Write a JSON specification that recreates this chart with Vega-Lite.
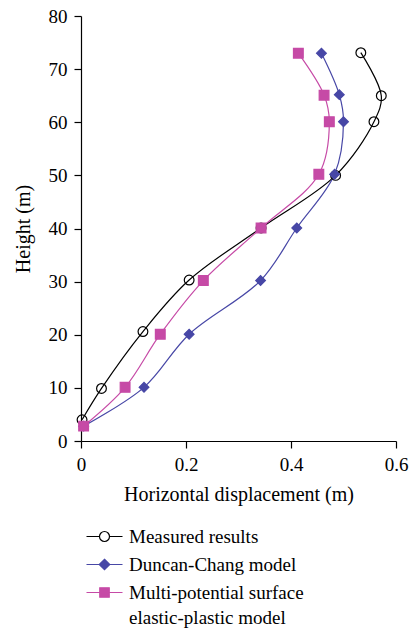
{
  "$schema": "https://vega.github.io/schema/vega-lite/v6.json",
  "width": 315,
  "height": 425,
  "autosize": {"type": "none"},
  "padding": {"left": 81, "top": 16, "right": 18, "bottom": 192},
  "background": "white",
  "config": {
    "view": {"stroke": null},
    "font": "Liberation Serif",
    "style": {"guide-label": {"lineHeight": 25}},
    "axis": {
      "grid": false,
      "domainColor": "#000000",
      "domainWidth": 1.2,
      "tickColor": "#000000",
      "tickWidth": 1.2,
      "tickSize": 7,
      "labelColor": "#000000",
      "labelFont": "Liberation Serif",
      "labelFontSize": 19,
      "labelPadding": 7,
      "labelFlush": false,
      "labelOverlap": false,
      "titleColor": "#000000",
      "titleFont": "Liberation Serif",
      "titleFontSize": 20,
      "titleFontWeight": "normal"
    },
    "legend": {
      "labelFont": "Liberation Serif",
      "labelFontSize": 19,
      "labelColor": "#000000",
      "labelLimit": 400
    }
  },
  "data": {
    "values": [
      {"series": "Measured results", "d": 0.002, "h": 4.0},
      {"series": "Measured results", "d": 0.039, "h": 9.9},
      {"series": "Measured results", "d": 0.118, "h": 20.6},
      {"series": "Measured results", "d": 0.206, "h": 30.3},
      {"series": "Measured results", "d": 0.343, "h": 40.1},
      {"series": "Measured results", "d": 0.485, "h": 50.0},
      {"series": "Measured results", "d": 0.558, "h": 60.1},
      {"series": "Measured results", "d": 0.572, "h": 65.0},
      {"series": "Measured results", "d": 0.533, "h": 73.1},
      {"series": "Duncan-Chang model", "d": 0.005, "h": 2.8},
      {"series": "Duncan-Chang model", "d": 0.12, "h": 10.1},
      {"series": "Duncan-Chang model", "d": 0.206, "h": 20.1},
      {"series": "Duncan-Chang model", "d": 0.342, "h": 30.2},
      {"series": "Duncan-Chang model", "d": 0.411, "h": 40.1},
      {"series": "Duncan-Chang model", "d": 0.483, "h": 50.2},
      {"series": "Duncan-Chang model", "d": 0.5, "h": 60.1},
      {"series": "Duncan-Chang model", "d": 0.492, "h": 65.2},
      {"series": "Duncan-Chang model", "d": 0.458, "h": 73.0},
      {"series": "Multi-potential surface elastic-plastic model", "d": 0.005, "h": 2.8},
      {"series": "Multi-potential surface elastic-plastic model", "d": 0.084, "h": 10.1},
      {"series": "Multi-potential surface elastic-plastic model", "d": 0.151, "h": 20.1},
      {"series": "Multi-potential surface elastic-plastic model", "d": 0.233, "h": 30.2},
      {"series": "Multi-potential surface elastic-plastic model", "d": 0.343, "h": 40.1},
      {"series": "Multi-potential surface elastic-plastic model", "d": 0.453, "h": 50.2},
      {"series": "Multi-potential surface elastic-plastic model", "d": 0.473, "h": 60.1},
      {"series": "Multi-potential surface elastic-plastic model", "d": 0.463, "h": 65.1},
      {"series": "Multi-potential surface elastic-plastic model", "d": 0.414, "h": 73.0}
    ]
  },
  "encoding": {
    "x": {
      "field": "d",
      "type": "quantitative",
      "scale": {"domain": [0, 0.6], "nice": false, "zero": false},
      "axis": {
        "title": "Horizontal displacement (m)",
        "values": [0, 0.2, 0.4, 0.6],
        "labelExpr": "datum.value == 0 ? '0' : format(datum.value, '.1f')",
        "labelFont": "Liberation Serif",
        "labelFontSize": 19,
        "titleFont": "Liberation Serif",
        "titleFontSize": 20,
        "titleY": 53,
        "titleBaseline": "middle"
      }
    },
    "y": {
      "field": "h",
      "type": "quantitative",
      "scale": {"domain": [0, 80], "nice": false},
      "axis": {
        "title": "Height (m)",
        "values": [0, 10, 20, 30, 40, 50, 60, 70, 80],
        "labelFont": "Liberation Serif",
        "labelFontSize": 19,
        "titleFont": "Liberation Serif",
        "titleFontSize": 20,
        "titleX": -58,
        "titleBaseline": "middle"
      }
    }
  },
  "layer": [
    {
      "mark": {"type": "line", "interpolate": "catmull-rom", "strokeWidth": 1.2},
      "encoding": {
        "stroke": {
          "field": "series",
          "type": "nominal",
          "scale": {
            "domain": ["Measured results", "Duncan-Chang model", "Multi-potential surface elastic-plastic model"],
            "range": ["#000000", "#4747a6", "#c64aa6"]
          },
          "legend": null
        },
        "order": {"field": "h", "type": "quantitative"}
      }
    },
    {
      "mark": {"type": "point", "filled": true, "opacity": 1, "strokeWidth": 1.2, "size": 95},
      "encoding": {
        "shape": {
          "field": "series",
          "type": "nominal",
          "scale": {
            "domain": ["Measured results", "Duncan-Chang model", "Multi-potential surface elastic-plastic model"],
            "range": ["circle", "diamond", "square"]
          },
          "legend": null
        },
        "stroke": {
          "field": "series",
          "type": "nominal",
          "scale": {
            "domain": ["Measured results", "Duncan-Chang model", "Multi-potential surface elastic-plastic model"],
            "range": ["#000000", "#4747a6", "#c64aa6"]
          },
          "legend": null
        },
        "fill": {
          "field": "series",
          "type": "nominal",
          "scale": {
            "domain": ["Measured results", "Duncan-Chang model", "Multi-potential surface elastic-plastic model"],
            "range": ["transparent", "#4747a6", "#c64aa6"]
          },
          "legend": null
        }
      }
    },
    {
      "transform": [{"filter": "datum.h < 0"}],
      "mark": {"type": "point", "filled": true, "opacity": 1, "strokeWidth": 1.2, "size": 100},
      "encoding": {
        "shape": {
          "field": "series",
          "type": "nominal",
          "scale": {
            "domain": ["Measured results", "Duncan-Chang model", "Multi-potential surface elastic-plastic model"],
            "range": [
              "M-3.6,0H-1M1,0H3.6M1,0A1,1 0 1,1 -1,0A1,1 0 1,1 1,0Z",
              "M-3.6,0H3.6M0,-1.05L1.05,0L0,1.05L-1.05,0Z",
              "M-3.6,0H3.6M-0.95,-0.95H0.95V0.95H-0.95Z"
            ]
          },
          "legend": {
            "title": null,
            "orient": "none",
            "legendX": 14,
            "legendY": 511,
            "padding": 0,
            "symbolSize": 100,
            "symbolStrokeWidth": 1.2,
            "labelOffset": 15,
            "rowPadding": 8,
            "labelBaseline": "middle",
            "labelExpr": "datum.label == 'Multi-potential surface elastic-plastic model' ? ['Multi-potential surface', 'elastic-plastic model'] : datum.label"
          }
        },
        "stroke": {
          "field": "series",
          "type": "nominal",
          "scale": {
            "domain": ["Measured results", "Duncan-Chang model", "Multi-potential surface elastic-plastic model"],
            "range": ["#000000", "#4747a6", "#c64aa6"]
          },
          "legend": {
            "title": null,
            "orient": "none",
            "legendX": 14,
            "legendY": 511,
            "padding": 0,
            "symbolSize": 100,
            "symbolStrokeWidth": 1.2,
            "labelOffset": 15,
            "rowPadding": 8,
            "labelBaseline": "middle",
            "labelExpr": "datum.label == 'Multi-potential surface elastic-plastic model' ? ['Multi-potential surface', 'elastic-plastic model'] : datum.label"
          }
        },
        "fill": {
          "field": "series",
          "type": "nominal",
          "scale": {
            "domain": ["Measured results", "Duncan-Chang model", "Multi-potential surface elastic-plastic model"],
            "range": ["white", "#4747a6", "#c64aa6"]
          },
          "legend": {
            "title": null,
            "orient": "none",
            "legendX": 14,
            "legendY": 511,
            "padding": 0,
            "symbolSize": 100,
            "symbolStrokeWidth": 1.2,
            "labelOffset": 15,
            "rowPadding": 8,
            "labelBaseline": "middle",
            "labelExpr": "datum.label == 'Multi-potential surface elastic-plastic model' ? ['Multi-potential surface', 'elastic-plastic model'] : datum.label"
          }
        }
      }
    }
  ],
  "resolve": {"scale": {"shape": "independent", "stroke": "independent", "fill": "independent"}}
}
